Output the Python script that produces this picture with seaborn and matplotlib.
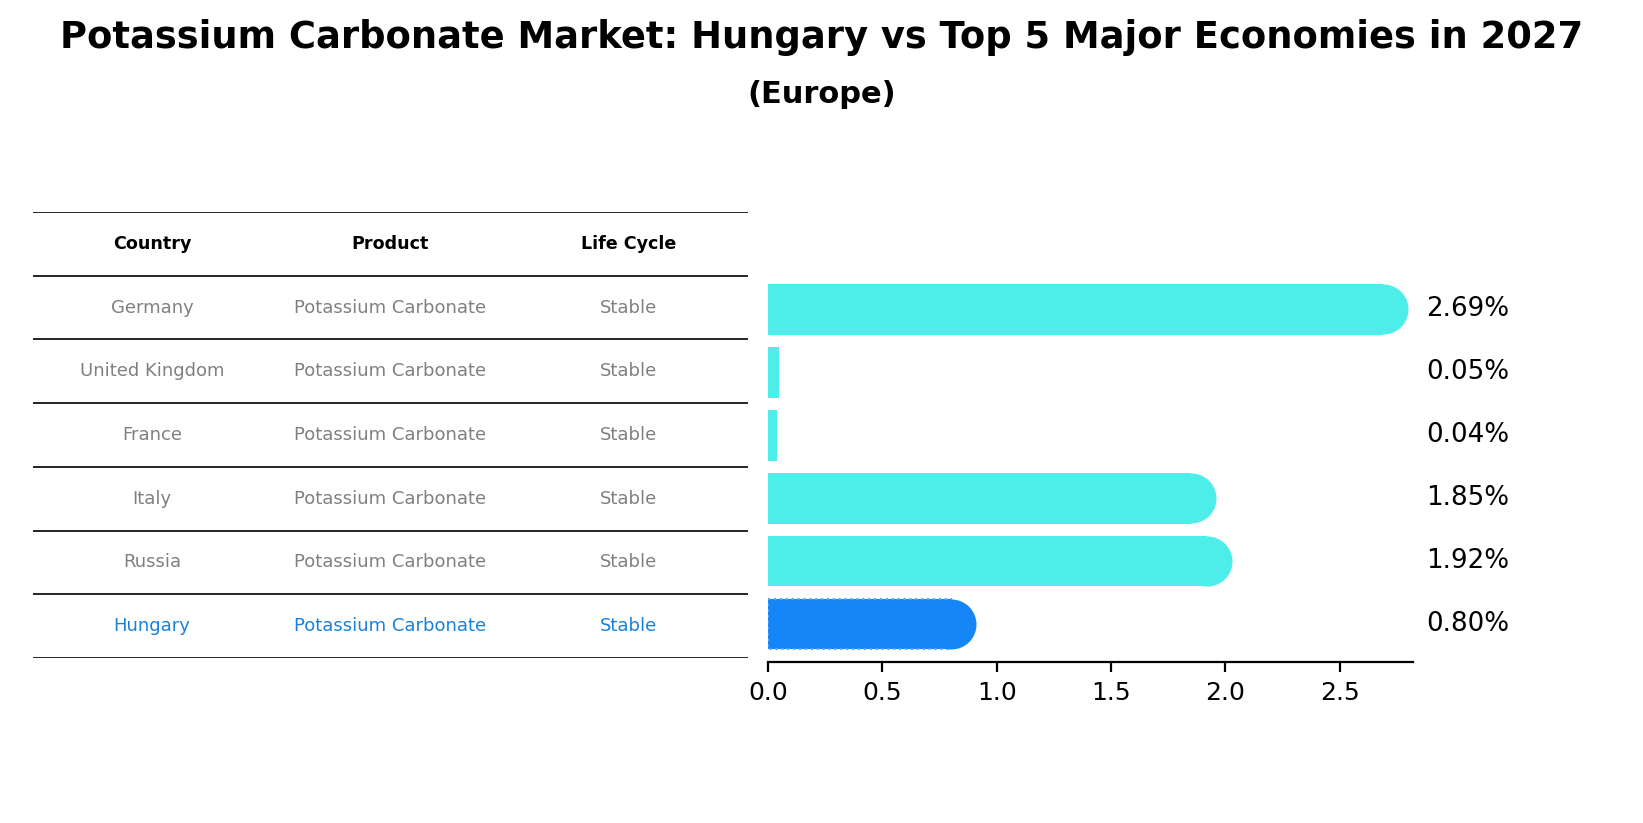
import matplotlib
matplotlib.use("Agg")
import matplotlib.pyplot as plt
import seaborn as sns
import pandas as pd

countries = ["Germany", "United Kingdom", "France", "Italy", "Russia", "Hungary"]
products = ["Potassium Carbonate"] * 6
life_cycle = ["Stable"] * 6
values = [2.69, 0.05, 0.04, 1.85, 1.92, 0.80]
highlight = "Hungary"

df = pd.DataFrame({"country": countries, "value": values})
cyan, blue = "#4DEEEA", "#1685F8"
colors = [blue if c == highlight else cyan for c in countries]

fig = plt.figure(figsize=(1643/200, 823/200), dpi=200)
fig.text(0.5, 0.955, "Potassium Carbonate Market: Hungary vs Top 5 Major Economies in 2027",
         ha="center", va="center", fontsize=13.3, fontweight="bold")
fig.text(0.5, 0.885, "(Europe)", ha="center", va="center", fontsize=11, fontweight="bold")

# table
tax = fig.add_axes([0.0201, 0.2005, 0.435, 0.5419])
tax.set_xlim(0, 3); tax.set_ylim(7, 0); tax.axis("off")
for i in range(8):
    tax.axhline(i, color="black", lw=0.6)
for j, h in enumerate(["Country", "Product", "Life Cycle"]):
    tax.text(j + 0.5, 0.5, h, ha="center", va="center", fontsize=6.3, fontweight="bold")
for i, (c, p, l) in enumerate(zip(countries, products, life_cycle)):
    col = "#1a80d9" if c == highlight else "gray"
    for j, t in enumerate([c, p, l]):
        tax.text(j + 0.5, i + 1.5, t, ha="center", va="center", fontsize=6.5, color=col)

# bars
ax = fig.add_axes([0.4674, 0.1956, 0.3926, 0.4666])
sns.barplot(data=df, y="country", x="value", hue="country", palette=colors,
            orient="h", width=0.8, legend=False, ax=ax, saturation=1)
for p, c, v in zip(ax.patches, countries, values):
    if c == highlight:
        p.set_edgecolor("#5aa8ff"); p.set_linestyle(":"); p.set_linewidth(0.8)
    if v > 0.2:
        ax.scatter([v], [countries.index(c)], s=324, color=p.get_facecolor(),
                   marker="o", linewidths=0, zorder=3, clip_on=False)
    ax.text(1.02, countries.index(c), f"{v:.2f}%", transform=ax.get_yaxis_transform(),
            ha="left", va="center", fontsize=9.4)
ax.set_xlim(0, 2.82)
ax.set_ylim(5.6, -0.5)
ax.set_yticks([]); ax.set_ylabel(""); ax.set_xlabel("")
ax.set_xticks([0, 0.5, 1.0, 1.5, 2.0, 2.5])
ax.tick_params(axis="x", labelsize=9)
for s in ["top", "right", "left"]:
    ax.spines[s].set_visible(False)
fig.savefig("out.png", dpi=200)
